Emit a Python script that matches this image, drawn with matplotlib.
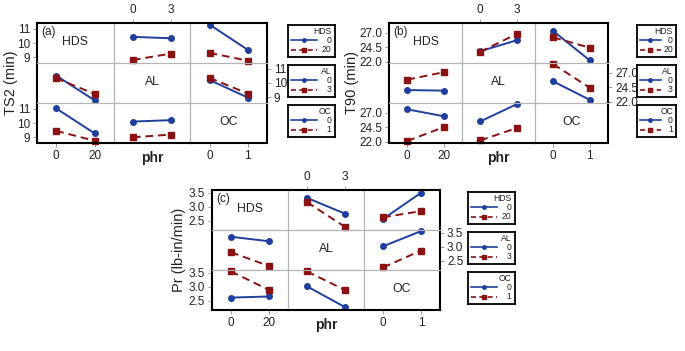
import matplotlib.pyplot as plt

plt.rcParams['font.family'] = ['Liberation Sans', 'DejaVu Sans']

BLUE = '#1f3f9c'
RED = '#8a1212'
GRID = '#b4b4b4'
TXT = '#222222'

# niveis dos fatores
hds_levels = [0, 20]
al_levels = [0, 3]
oc_levels = [0, 1]

# TS2 (min): [linha nivel baixo, linha nivel alto] do fator da linha, no eixo x do fator da coluna
ts2_hds_al = [[10.43, 10.33], [8.81, 9.26]]
ts2_hds_oc = [[11.29, 9.52], [9.31, 8.76]]
ts2_al_hds = [[10.52, 8.79], [10.33, 9.24]]
ts2_al_oc = [[10.21, 8.98], [10.36, 9.26]]
ts2_oc_hds = [[11.02, 9.28], [9.45, 8.76]]
ts2_oc_al = [[10.10, 10.20], [9.00, 9.19]]

# T90 (min)
t90_hds_al = [[23.8, 25.7], [23.7, 26.8]]
t90_hds_oc = [[27.3, 22.2], [26.2, 24.4]]
t90_al_hds = [[24.0, 23.9], [25.8, 27.1]]
t90_al_oc = [[25.5, 22.3], [28.5, 24.4]]
t90_oc_hds = [[27.6, 26.4], [22.1, 24.5]]
t90_oc_al = [[25.5, 28.5], [22.2, 24.35]]

# Pr (lb-in/min)
pr_hds_al = [[3.32, 2.76], [3.17, 2.29]]
pr_hds_oc = [[2.57, 3.50], [2.63, 2.85]]
pr_al_hds = [[3.36, 3.20], [2.81, 2.32]]
pr_al_oc = [[3.02, 3.56], [2.27, 2.87]]
pr_oc_hds = [[2.62, 2.66], [3.55, 2.89]]
pr_oc_al = [[3.02, 2.28], [3.55, 2.89]]

fatores = ['HDS', 'AL', 'OC']
niveis = [hds_levels, al_levels, oc_levels]

W, H = 685, 351


def caixa(x0, y0, x1, y1):
    # converte pixels (origem no topo) para fracao da figura
    return [x0 / W, 1 - y1 / H, (x1 - x0) / W, (y1 - y0) / H]


def desenhar_painel(fig, box, tabela, ylim, yticks, fmt, ylabel, rotulo, ylab_x, legend_x, legend_w):
    x0, y0, x1, y1 = box
    cw = (x1 - x0) / 3
    rh = (y1 - y0) / 3
    for i in range(3):
        for j in range(3):
            ax = fig.add_axes(caixa(x0 + j * cw, y0 + i * rh, x0 + (j + 1) * cw, y0 + (i + 1) * rh))
            lv = niveis[j]
            pad = (lv[1] - lv[0]) / 2
            ax.set_xlim(lv[0] - pad, lv[1] + pad)
            ax.set_ylim(*ylim)
            ax.set_facecolor('none')
            for sp in ax.spines.values():
                sp.set_color(GRID)
                sp.set_linewidth(0.8)
            if i == 0:
                ax.spines['top'].set(color='black', linewidth=1.5)
            if i == 2:
                ax.spines['bottom'].set(color='black', linewidth=1.5)
            if j == 0:
                ax.spines['left'].set(color='black', linewidth=1.5)
            if j == 2:
                ax.spines['right'].set(color='black', linewidth=1.5)
            ax.tick_params(length=3, width=0.6, color='#888888', labelsize=8.5,
                           labelcolor=TXT, pad=2)
            ax.set_xticks([])
            ax.set_yticks([])

            if i == j:
                ax.text(0.5, 0.52, fatores[i], transform=ax.transAxes, ha='center',
                        va='center', fontsize=8.8, color=TXT)
                if i == 0:
                    ax.text(0.06, 0.78, rotulo, transform=ax.transAxes, ha='left',
                            va='center', fontsize=8.5, color=TXT)
            else:
                serie = tabela[(i, j)]
                ax.plot(lv, serie[0], color=BLUE, marker='o', ms=4, lw=1.4, clip_on=False)
                ax.plot(lv, serie[1], color=RED, marker='s', ms=4.5, lw=1.4,
                        dashes=(4, 2.5), clip_on=False)

            # eixos x
            if i == 0 and j == 1:
                ax.xaxis.tick_top()
                ax.set_xticks(lv)
                ax.set_xticklabels([str(v) for v in lv])
            if i == 2 and j != 1:
                ax.set_xticks(lv)
                ax.set_xticklabels([str(v) for v in lv])
            # eixos y
            if j == 0 and i != 1:
                ax.set_yticks(yticks)
                ax.set_yticklabels([fmt.format(v) for v in yticks])
            if j == 2 and i == 1:
                ax.yaxis.tick_right()
                ax.set_yticks(yticks)
                ax.set_yticklabels([fmt.format(v) for v in yticks])

    fig.text(ylab_x / W, 1 - (y0 + y1) / 2 / H, ylabel, rotation=90, ha='center',
             va='center', fontsize=10.5, color=TXT)
    fig.text((x0 + 1.5 * cw) / W, 1 - (y1 + 15) / H, 'phr', ha='center', va='center',
             fontsize=10, fontweight='bold', color=TXT)

    # legendas de cada linha
    for i in range(3):
        ly0 = y0 + i * rh + 2
        lax = fig.add_axes(caixa(legend_x, ly0, legend_x + legend_w, ly0 + 32))
        lax.set_xlim(0, 1)
        lax.set_ylim(0, 1)
        lax.set_xticks([])
        lax.set_yticks([])
        for sp in lax.spines.values():
            sp.set_linewidth(1.3)
        lax.text(0.92, 0.80, fatores[i], ha='right', va='center', fontsize=6.2, color=TXT)
        lax.plot([0.07, 0.62], [0.52, 0.52], color=BLUE, lw=1.2)
        lax.plot([0.345], [0.52], color=BLUE, marker='o', ms=2.5)
        lax.plot([0.07, 0.62], [0.22, 0.22], color=RED, lw=1.2, dashes=(3, 2))
        lax.plot([0.345], [0.22], color=RED, marker='s', ms=3)
        lax.text(0.92, 0.52, str(niveis[i][0]), ha='right', va='center', fontsize=6.2, color=TXT)
        lax.text(0.92, 0.22, str(niveis[i][1]), ha='right', va='center', fontsize=6.2, color=TXT)


def montar_tabela(hds_al, hds_oc, al_hds, al_oc, oc_hds, oc_al):
    return {(0, 1): hds_al, (0, 2): hds_oc, (1, 0): al_hds,
            (1, 2): al_oc, (2, 0): oc_hds, (2, 1): oc_al}


fig = plt.figure(figsize=(6.85, 3.51), dpi=100)

desenhar_painel(fig, (37, 23, 267, 143),
                montar_tabela(ts2_hds_al, ts2_hds_oc, ts2_al_hds, ts2_al_oc, ts2_oc_hds, ts2_oc_al),
                (8.6, 11.4), [9, 10, 11], '{:g}', 'TS2 (min)', '(a)', 11, 288, 47)

desenhar_painel(fig, (389, 23, 608, 143),
                montar_tabela(t90_hds_al, t90_hds_oc, t90_al_hds, t90_al_oc, t90_oc_hds, t90_oc_al),
                (21.75, 28.7), [22.0, 24.5, 27.0], '{:.1f}', 'T90 (min)', '(b)', 352, 637, 39)

desenhar_painel(fig, (212, 190, 440, 310),
                montar_tabela(pr_hds_al, pr_hds_oc, pr_al_hds, pr_al_oc, pr_oc_hds, pr_oc_al),
                (2.18, 3.6), [2.5, 3.0, 3.5], '{:.1f}', 'Pr (lb-in/min)', '(c)', 179, 468, 47)

fig.savefig('out.png', dpi=100)
